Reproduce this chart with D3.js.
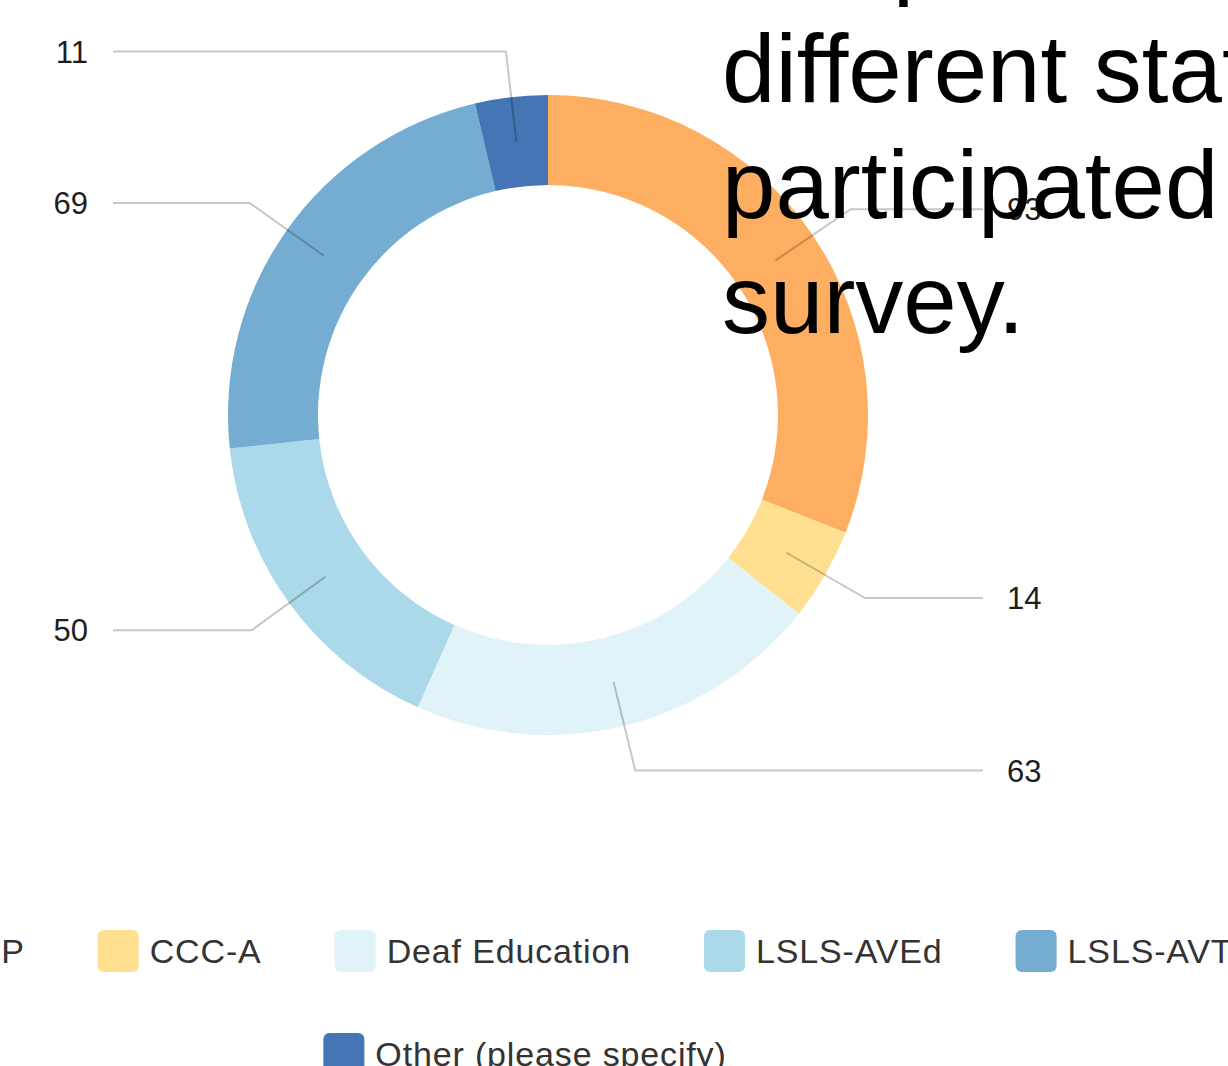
<!DOCTYPE html>
<html>
<head>
<meta charset="utf-8">
<script src="https://cdn.jsdelivr.net/npm/d3@7/dist/d3.min.js"></script>
<style>
  html, body { margin: 0; padding: 0; background: #ffffff; overflow: hidden; }
  svg { display: block; }
</style>
</head>
<body>
<svg id="chart" width="1228" height="1066"></svg>
<script>
// Credentials held by survey respondents
const categories = ["CCC-SLP", "CCC-A", "Deaf Education", "LSLS-AVEd", "LSLS-AVT", "Other (please specify)"];
const counts = [93, 14, 63, 50, 69, 11];
const palette = ["#fdae61", "#fee090", "#e0f3f8", "#abd9e9", "#74add1", "#4575b4"];
const titleLines = ["Respondents from", "different states", "participated in the", "survey."];

const W = 1228, H = 1066;
const cx = 548, cy = 415;
const innerR = 230, outerR = 320;
const midR = (innerR + outerR) / 2;
const elbowR = 366;
const lineEndLeft = 113, lineEndRight = 983;
const labelLeft = 88, labelRight = 1007;

const svg = d3.select("#chart");

const data = categories.map((c, i) => ({ category: c, value: counts[i], color: palette[i] }));

const pie = d3.pie().value(d => d.value).sort(null);
const arcs = pie(data);
const arc = d3.arc().innerRadius(innerR).outerRadius(outerR);

const chart = svg.append("g").attr("transform", `translate(${cx},${cy})`);

chart.selectAll("path.slice")
  .data(arcs)
  .join("path")
  .attr("class", "slice")
  .attr("d", arc)
  .attr("fill", d => d.data.color);

// Leader lines: from the middle of the ring, out to an elbow, then horizontally to the edge
const polar = (r, a) => [r * Math.sin(a), -r * Math.cos(a)];

arcs.forEach(d => {
  const a = (d.startAngle + d.endAngle) / 2;
  const p0 = polar(midR, a);
  const p1 = polar(elbowR, a);
  const right = Math.sin(a) >= 0;
  const xEnd = (right ? lineEndRight : lineEndLeft) - cx;
  chart.append("polyline")
    .attr("points", [p0, p1, [xEnd, p1[1]]].map(p => p.join(",")).join(" "))
    .attr("fill", "none")
    .attr("stroke", "rgba(0,0,0,0.22)")
    .attr("stroke-width", 2);
  chart.append("text")
    .attr("x", (right ? labelRight : labelLeft) - cx)
    .attr("y", p1[1])
    .attr("dy", "0.36em")
    .attr("text-anchor", right ? "start" : "end")
    .attr("font-family", "'Liberation Sans', Arial, sans-serif")
    .attr("font-size", 31)
    .attr("fill", "#1e1e1e")
    .text(d.data.value);
});

// Legend: two centred rows of rounded swatches
const legendRows = [data.slice(0, 5), data.slice(5)];
const legendCenterX = 525;
const rowCenters = [951, 1054];
const sw = 41, sh = 42, swGap = 11, itemGap = 73;
const legend = svg.append("g");

legendRows.forEach((row, ri) => {
  const g = legend.append("g");
  let x = 0;
  row.forEach(d => {
    const item = g.append("g").attr("transform", `translate(${x},0)`);
    item.append("rect")
      .attr("x", 0).attr("y", -sh / 2)
      .attr("width", sw).attr("height", sh)
      .attr("rx", 6).attr("ry", 6)
      .attr("fill", d.color);
    const t = item.append("text")
      .attr("x", sw + swGap)
      .attr("y", 0)
      .attr("dy", "0.36em")
      .attr("font-family", "'Liberation Sans', Arial, sans-serif")
      .attr("font-size", 34)
      .attr("letter-spacing", 0.85)
      .attr("fill", "#333")
      .text(d.category);
    x += sw + swGap + t.node().getComputedTextLength() + itemGap;
  });
  const total = x - itemGap;
  g.attr("transform", `translate(${legendCenterX - total / 2},${rowCenters[ri]})`);
});

// Title drawn over the chart
const title = svg.append("text")
  .attr("x", 722)
  .attr("y", -13.5)
  .attr("font-family", "'Liberation Sans', Arial, sans-serif")
  .attr("font-size", 96)
  .attr("fill", "#000");
title.selectAll("tspan")
  .data(titleLines)
  .join("tspan")
  .attr("x", 722)
  .attr("dy", (d, i) => i === 0 ? 0 : 115.5)
  .text(d => d);
</script>
</body>
</html>
